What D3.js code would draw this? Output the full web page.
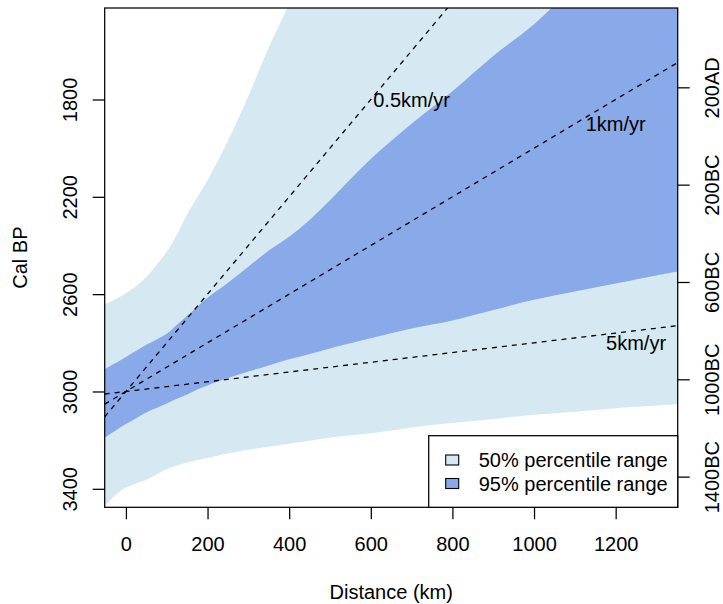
<!DOCTYPE html>
<html>
<head>
<meta charset="utf-8">
<script src="https://cdn.jsdelivr.net/npm/d3@7"></script>
<style>
  html, body { margin: 0; padding: 0; background: #fff; }
  svg { display: block; font-family: "Liberation Sans", Arial, Helvetica, sans-serif; }
</style>
</head>
<body>
<svg id="chart" width="723" height="604"></svg>
<script>
// Distance grid (km) at which the percentile envelopes are sampled
const distance = [-52, -25, 0, 25, 50, 75, 100, 125, 150, 175, 200, 250, 300, 350, 400, 450, 500, 600, 700, 800, 900, 1000, 1100, 1200, 1300, 1352];

// Outer envelope (light): upper (younger) and lower (older) bounds, Cal BP
const outerUpper = [2642, 2620, 2596, 2568, 2530, 2480, 2426, 2355, 2272, 2202, 2132, 1970, 1786, 1586, 1409, 1240, 1080, 800, 560, 340, 140, -40, -200, -350, -490, -560];
const outerLower = [3470, 3425, 3395, 3378, 3363, 3340, 3319, 3304, 3292, 3282, 3273, 3255, 3239, 3227, 3215, 3202, 3190, 3172, 3148, 3130, 3113, 3096, 3083, 3069, 3058, 3053];

// Inner envelope (darker): upper and lower bounds, Cal BP
const innerUpper = [2908, 2883, 2858, 2833, 2808, 2786, 2763, 2726, 2689, 2652, 2615, 2553, 2487, 2421, 2364, 2295, 2214, 2045, 1900, 1766, 1621, 1491, 1330, 1180, 1030, 950];
const innerLower = [3190, 3160, 3134, 3110, 3086, 3068, 3049, 3030, 3012, 2992, 2975, 2945, 2918, 2893, 2868, 2846, 2823, 2781, 2741, 2708, 2665, 2623, 2589, 2556, 2523, 2507];

// Constant-speed reference lines from the origin (0 km, 3000 BP)
const originBP = 3000;
const speeds = [0.5, 1, 5];
const speedLabels = ["0.5km/yr", "1km/yr", "5km/yr"];
const speedLabelX = [700, 1200, 1250];
const speedLabelY = [1800, 1900, 2800];

// Axis ticks
const xTicks = [0, 200, 400, 600, 800, 1000, 1200];
const yTicks = [1800, 2200, 2600, 3000, 3400];
const calTicks = [1750, 2150, 2550, 2950, 3350];
const calLabels = ["200AD", "200BC", "600BC", "1000BC", "1400BC"];

// Legend
const legendLabels = ["50% percentile range", "95% percentile range"];
const colors = ["#d6e9f2", "#8aa9e8"];

const svg = d3.select("#chart");
const plot = { left: 104.7, top: 8, right: 677.7, bottom: 507.3 };
const fs = 20;

const x = d3.scaleLinear().domain([-52, 1352]).range([plot.left, plot.right]);
const y = d3.scaleLinear().domain([1424, 3476]).range([plot.top, plot.bottom]);

svg.append("defs").append("clipPath").attr("id", "plotClip")
  .append("rect")
  .attr("x", plot.left).attr("y", plot.top)
  .attr("width", plot.right - plot.left).attr("height", plot.bottom - plot.top);

const g = svg.append("g").attr("clip-path", "url(#plotClip)");

const outer = distance.map((d, i) => ({ d, lo: outerLower[i], hi: outerUpper[i] }));
const inner = distance.map((d, i) => ({ d, lo: innerLower[i], hi: innerUpper[i] }));

const band = d3.area()
  .x(p => x(p.d))
  .y0(p => y(p.lo))
  .y1(p => y(p.hi))
  .curve(d3.curveCatmullRom.alpha(0.5));

g.append("path").datum(outer).attr("d", band).attr("fill", colors[0]);
g.append("path").datum(inner).attr("d", band).attr("fill", colors[1]);

// Dashed speed lines across the full x range
const [d0, d1] = x.domain();
g.selectAll("line.speed").data(speeds).join("line")
  .attr("class", "speed")
  .attr("x1", x(d0)).attr("y1", v => y(originBP - d0 / v))
  .attr("x2", x(d1)).attr("y2", v => y(originBP - d1 / v))
  .attr("stroke", "#000")
  .attr("stroke-width", 1.3)
  .attr("stroke-dasharray", "5,5");

svg.selectAll("text.speedLabel").data(speedLabels).join("text")
  .attr("class", "speedLabel")
  .attr("x", (s, i) => x(speedLabelX[i]))
  .attr("y", (s, i) => y(speedLabelY[i]))
  .attr("dy", "0.36em")
  .attr("text-anchor", "middle")
  .attr("font-size", fs)
  .attr("fill", "#000")
  .text(s => s);

// Axes
const tickLen = 12;
const bottomAxis = d3.axisBottom(x).tickValues(xTicks).tickSize(tickLen).tickFormat(d3.format("d"));
const leftAxis = d3.axisLeft(y).tickValues(yTicks).tickSize(tickLen).tickFormat(d3.format("d"));
const rightAxis = d3.axisRight(y).tickValues(calTicks).tickSize(tickLen).tickFormat((d, i) => calLabels[i]);

function styleAxis(sel) {
  sel.select(".domain").remove();
  sel.selectAll(".tick line").attr("stroke", "#000").attr("stroke-width", 1.25);
  sel.selectAll(".tick text").attr("font-size", fs).attr("font-family", "Liberation Sans, Arial, sans-serif").attr("fill", "#000");
}

const gx = svg.append("g").attr("transform", `translate(0,${plot.bottom})`).call(bottomAxis);
styleAxis(gx);
gx.selectAll(".tick text").attr("y", 36.7).attr("dy", "0.36em");

const gl = svg.append("g").attr("transform", `translate(${plot.left},0)`).call(leftAxis);
styleAxis(gl);
gl.selectAll(".tick text")
  .attr("x", null)
  .attr("text-anchor", "middle")
  .attr("transform", "translate(-34.7,0) rotate(-90)")
  .attr("y", 0).attr("dy", "0.36em");

const gr = svg.append("g").attr("transform", `translate(${plot.right},0)`).call(rightAxis);
styleAxis(gr);
gr.selectAll(".tick text")
  .attr("x", null)
  .attr("text-anchor", "middle")
  .attr("transform", "translate(34.3,0) rotate(-90)")
  .attr("y", 0).attr("dy", "0.36em");

// Plot frame
svg.append("rect")
  .attr("x", plot.left).attr("y", plot.top)
  .attr("width", plot.right - plot.left).attr("height", plot.bottom - plot.top)
  .attr("fill", "none").attr("stroke", "#000").attr("stroke-width", 1.25);

// Axis titles
svg.append("text")
  .attr("x", (plot.left + plot.right) / 2).attr("y", 592).attr("dy", "0.36em")
  .attr("text-anchor", "middle").attr("font-size", fs).text("Distance (km)");

svg.append("text")
  .attr("transform", `translate(20,${(plot.top + plot.bottom) / 2}) rotate(-90)`)
  .attr("dy", "0.36em")
  .attr("text-anchor", "middle").attr("font-size", fs).text("Cal BP");

// Legend (bottom right of the plot)
const lg = { w: 249, h: 71.6 };
const legend = svg.append("g").attr("transform", `translate(${plot.right - lg.w},${plot.bottom - lg.h})`);
legend.append("rect")
  .attr("width", lg.w).attr("height", lg.h)
  .attr("fill", "#fff").attr("stroke", "#000").attr("stroke-width", 1.25);
const rows = legend.selectAll("g.row").data(legendLabels).join("g")
  .attr("class", "row")
  .attr("transform", (s, i) => `translate(0,${24.3 + i * 23.5})`);
rows.append("rect")
  .attr("x", 17).attr("y", -5).attr("width", 13).attr("height", 10)
  .attr("fill", (s, i) => colors[i]).attr("stroke", "#000").attr("stroke-width", 1.1);
rows.append("text")
  .attr("x", 50).attr("dy", "0.36em")
  .attr("font-size", fs).attr("fill", "#000")
  .text(s => s);
</script>
</body>
</html>
